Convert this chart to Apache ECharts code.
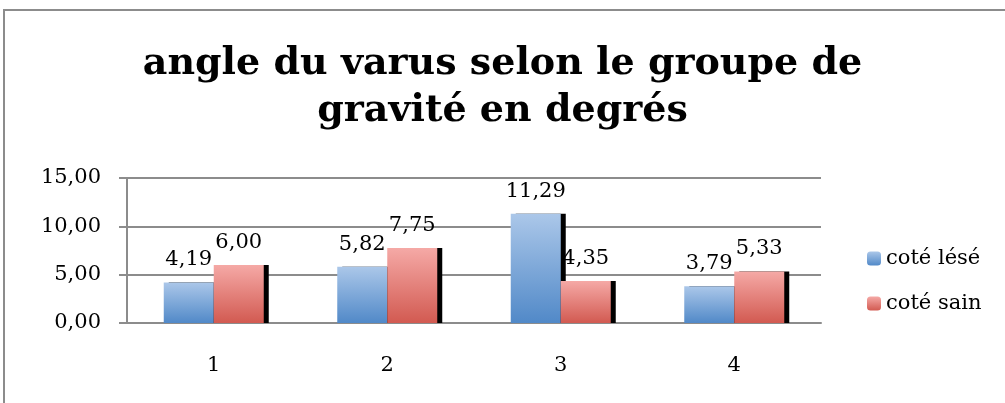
<!DOCTYPE html>
<html>
<head>
<meta charset="utf-8">
<script src="https://cdn.jsdelivr.net/npm/echarts@6/dist/echarts.min.js"></script>
<style>
    html, body { margin: 0; padding: 0; background: #fff; }
    #chart { width: 1005px; height: 403px; }
</style>
</head>
<body>
<div id="chart"></div>
<script>
    const categories = ['1', '2', '3', '4']
    const coteLese = [4.19, 5.82, 11.29, 3.79]
    const coteSain = [6.00, 7.75, 4.35, 5.33]
    const seriesNames = ['coté lésé', 'coté sain']

    const font = 'DejaVu Serif'
    const gray = '#8c8c8c'

    // virgule décimale, comme dans Excel
    const fmt = v => Number(v).toFixed(2).replace('.', ',')

    const grad = (top, bottom) => new echarts.graphic.LinearGradient(0, 0, 0, 1, [
        { offset: 0, color: top },
        { offset: 1, color: bottom }
    ])

    const barStyle = (top, bottom) => ({
        color: grad(top, bottom),
        borderWidth: 0,
        shadowColor: '#000',
        shadowOffsetX: 5,
        shadowOffsetY: 0,
        shadowBlur: 0
    })

    const barLabel = {
        show: true,
        position: 'top',
        distance: 12,
        fontFamily: font,
        fontSize: 21,
        color: '#000',
        formatter: p => fmt(p.value)
    }

    const chart = echarts.init(document.getElementById('chart'))

    chart.setOption({
        animation: false,
        title: {
            text: 'angle du varus selon le groupe de\ngravité en degrés',
            left: 'center',
            top: 36,
            textStyle: {
                fontFamily: font,
                fontWeight: 'bold',
                fontSize: 38,
                lineHeight: 47,
                color: '#000'
            }
        },
        graphic: [{
            type: 'rect',
            shape: { x: 4, y: 10, width: 1020, height: 420 },
            style: { fill: null, stroke: gray, lineWidth: 2 },
            silent: true
        }],
        legend: {
            orient: 'vertical',
            left: 862,
            top: 243,
            itemWidth: 14,
            itemHeight: 14,
            itemGap: 24,
            data: seriesNames,
            textStyle: { fontFamily: font, fontSize: 21, color: '#000' },
            itemStyle: { borderWidth: 0, shadowColor: 'transparent', shadowOffsetX: 0, shadowBlur: 0 }
        },
        grid: {
            left: 127,
            right: 184,
            top: 178,
            bottom: 80
        },
        xAxis: {
            type: 'category',
            data: categories,
            axisLine: { lineStyle: { color: gray, width: 2 } },
            axisTick: { length: 8, lineStyle: { color: gray, width: 2 } },
            axisLabel: { margin: 32, fontFamily: font, fontSize: 21, color: '#000' }
        },
        yAxis: {
            type: 'value',
            min: 0,
            max: 15,
            interval: 5,
            axisLine: { show: true, lineStyle: { color: gray, width: 2 } },
            axisTick: { show: true, length: 8, lineStyle: { color: gray, width: 2 } },
            axisLabel: {
                margin: 26,
                fontFamily: font,
                fontSize: 21,
                color: '#000',
                formatter: fmt
            },
            splitLine: { lineStyle: { color: gray, width: 2 } }
        },
        series: [{
            name: seriesNames[0],
            type: 'bar',
            data: coteLese,
            barWidth: 50,
            barGap: '0%',
            itemStyle: barStyle('#abc7e9', '#5189c8'),
            label: barLabel
        }, {
            name: seriesNames[1],
            type: 'bar',
            data: coteSain,
            barWidth: 50,
            barGap: '0%',
            itemStyle: barStyle('#f5a9a6', '#d25a51'),
            label: barLabel
        }]
    })
</script>
</body>
</html>
